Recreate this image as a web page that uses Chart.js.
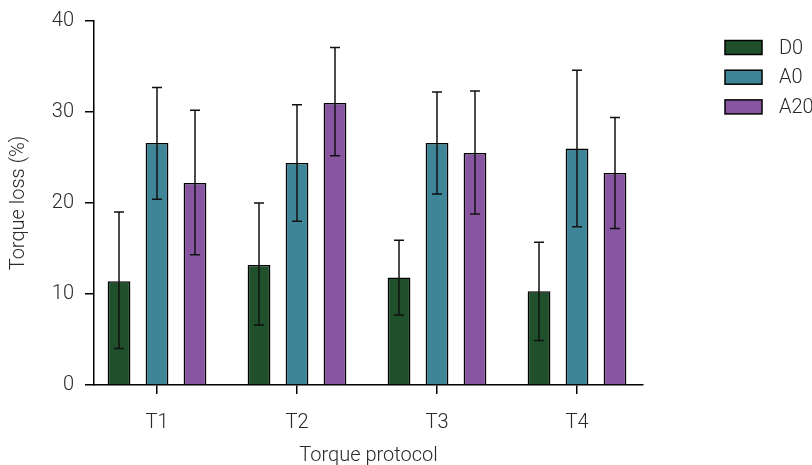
<!DOCTYPE html>
<html>
<head>
<meta charset="utf-8">
<script src="https://cdn.jsdelivr.net/npm/chart.js@4.4.1/dist/chart.umd.min.js"></script>
<style>
  html, body { margin: 0; padding: 0; background: #fff; }
  #wrap { width: 812px; height: 465px; }
</style>
</head>
<body>
<div id="wrap"><canvas id="chart"></canvas></div>
<script>
const protocols = ['T1', 'T2', 'T3', 'T4'];
const groups = ['D0', 'A0', 'A20'];
const colors = ['#1f4f2b', '#3f8598', '#8856a1'];

// mean values (%)
const d0Mean = [11.4, 13.2, 11.8, 10.3];
const a0Mean = [26.6, 24.4, 26.6, 26.0];
const a20Mean = [22.2, 31.0, 25.5, 23.3];

// error bar ends (low / high)
const d0Low = [4.0, 6.6, 7.7, 4.9];
const d0High = [19.0, 20.0, 15.9, 15.7];
const a0Low = [20.4, 18.0, 21.0, 17.4];
const a0High = [32.7, 30.8, 32.2, 34.6];
const a20Low = [14.3, 25.2, 18.8, 17.2];
const a20High = [30.2, 37.1, 32.3, 29.4];

const means = [d0Mean, a0Mean, a20Mean];
const lows = [d0Low, a0Low, a20Low];
const highs = [d0High, a0High, a20High];

const fontFamily = 'Roboto, "Noto Sans", sans-serif';
const textColor = '#2a2a2a';
const font = { family: fontFamily, size: 20, weight: 300 };

const errorBars = {
    id: 'errorBars',
    afterDatasetsDraw(chart) {
        const ctx = chart.ctx;
        const y = chart.scales.y;
        ctx.save();
        ctx.strokeStyle = '#111';
        ctx.lineWidth = 1.5;
        chart.data.datasets.forEach((ds, i) => {
            const meta = chart.getDatasetMeta(i);
            meta.data.forEach((bar, j) => {
                const yl = y.getPixelForValue(ds.low[j]);
                const yh = y.getPixelForValue(ds.high[j]);
                const cap = 5;
                ctx.beginPath();
                ctx.moveTo(bar.x, yl);
                ctx.lineTo(bar.x, yh);
                ctx.moveTo(bar.x - cap, yl);
                ctx.lineTo(bar.x + cap, yl);
                ctx.moveTo(bar.x - cap, yh);
                ctx.lineTo(bar.x + cap, yh);
                ctx.stroke();
            });
        });
        ctx.restore();
    }
};

const sideLegend = {
    id: 'sideLegend',
    afterDraw(chart) {
        const ctx = chart.ctx;
        ctx.save();
        ctx.font = '300 20px ' + fontFamily;
        ctx.textBaseline = 'middle';
        chart.data.datasets.forEach((ds, i) => {
            const cy = 47.5 + i * 29.7;
            ctx.fillStyle = ds.backgroundColor;
            ctx.fillRect(725, cy - 7, 37, 14);
            ctx.strokeStyle = '#000';
            ctx.lineWidth = 1.5;
            ctx.strokeRect(725, cy - 7, 37, 14);
            ctx.fillStyle = textColor;
            ctx.fillText(ds.label, 779, cy + 1);
        });
        ctx.restore();
    }
};

new Chart(document.getElementById('chart'), {
    type: 'bar',
    data: {
        datasets: groups.map((g, i) => ({
            label: g,
            data: protocols.map((p, j) => ({ x: j + 1, y: means[i][j] })),
            low: lows[i],
            high: highs[i],
            backgroundColor: colors[i],
            borderColor: '#000',
            borderWidth: 1.5,
            categoryPercentage: 0.814,
            barPercentage: 0.6
        }))
    },
    options: {
        responsive: true,
        maintainAspectRatio: false,
        animation: false,
        layout: { padding: { top: 21, right: 169, left: 0, bottom: 0 } },
        plugins: {
            legend: { display: false },
            tooltip: { enabled: false }
        },
        scales: {
            x: {
                type: 'linear',
                min: 0.55,
                max: 4.4714,
                offset: false,
                grid: { display: true, offset: false, drawOnChartArea: false, drawTicks: true, tickLength: 9, color: '#000', lineWidth: 1.5 },
                border: { display: true, color: '#000', width: 1.5 },
                ticks: {
                    stepSize: 1,
                    includeBounds: false,
                    color: textColor,
                    font: font,
                    padding: 17,
                    callback: v => protocols[v - 1]
                },
                title: { display: true, text: 'Torque protocol', color: textColor, font: font, padding: { top: 0, bottom: -3 } },
                afterFit(scale) { scale.height = 80; }
            },
            y: {
                min: 0,
                max: 40,
                ticks: { stepSize: 10, color: textColor, font: { family: fontFamily, size: 20, weight: 300, lineHeight: 1 }, padding: 11 },
                grid: { display: true, drawOnChartArea: false, drawTicks: true, tickLength: 9, color: '#000', lineWidth: 1.5 },
                border: { display: true, color: '#000', width: 1.5 },
                title: { display: true, text: 'Torque loss (%)', color: textColor, font: font, padding: { top: 7, bottom: 0 } },
                afterFit(scale) { scale.width = 94; }
            }
        }
    },
    plugins: [errorBars, sideLegend]
});
</script>
</body>
</html>
